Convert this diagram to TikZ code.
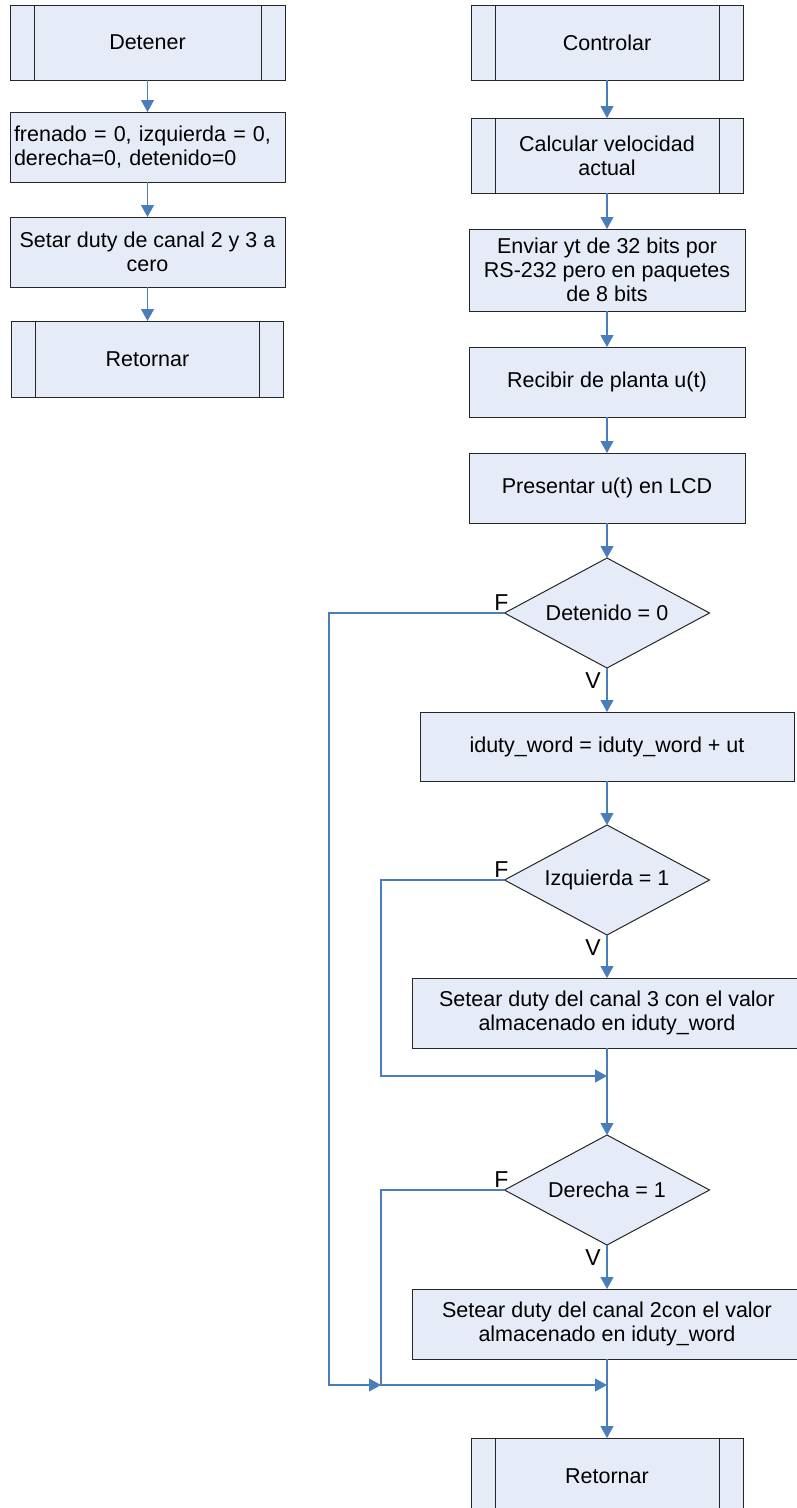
\documentclass[tikz,border=0pt]{standalone}
\usepackage{fontspec}
\setmainfont{Liberation Sans}
\usepackage{xcolor}
\usepackage{tikz}
\usetikzlibrary{arrows.meta,positioning,shapes.geometric}

\definecolor{boxfill}{HTML}{E6ECF7}
\definecolor{linkblue}{HTML}{4A7EBB}

\begin{document}
\begin{tikzpicture}[
    x=1pt, y=-1pt,
    every node/.style={font=\fontsize{21.5}{24}\selectfont},
    box/.style={rectangle, draw=black!85, line width=1pt, fill=boxfill, inner sep=0pt, outer sep=0pt, minimum width=276pt, minimum height=70pt, align=center},
    subproc/.style={box, minimum width=272pt, minimum height=75pt,
      path picture={
        \draw[line width=1pt, black!85] ([xshift=24pt]path picture bounding box.north west) -- ([xshift=24pt]path picture bounding box.south west);
        \draw[line width=1pt, black!85] ([xshift=-24pt]path picture bounding box.north east) -- ([xshift=-24pt]path picture bounding box.south east);
      }},
    decision/.style={diamond, aspect=1.86, draw=black!85, line width=1pt, fill=boxfill, inner sep=0pt, outer sep=0pt, minimum width=205pt, minimum height=110pt},
    link/.style={draw=linkblue, line width=1.1pt},
    arrow/.style={link, -{Triangle[length=12pt, width=13pt]}},
    lbl/.style={inner sep=0pt, font=\fontsize{23}{24}\selectfont},
  ]
  \useasboundingbox (0,0) rectangle (796,1508);

  % Detener
  \node[subproc, minimum width=275pt] (detener) at (147.5,42.5) {Detener};
  \node[box, minimum width=275pt, text width=267pt, inner xsep=4pt, align=left, below=32pt of detener] (frenado) {frenado = 0, izquierda = 0,\\derecha=0, detenido=0};
  \node[box, minimum width=275pt, below=35pt of frenado] (setar) {Setar duty de canal 2 y 3 a\\cero};
  \node[subproc, minimum height=76pt, below=34pt of setar] (ret1) {Retornar};

  % Controlar
  \node[subproc] (controlar) at (607,42.5) {Controlar};
  \node[subproc, below=38pt of controlar] (calcular) {Calcular velocidad\\actual};
  \node[box, minimum height=82pt, below=36pt of calcular] (enviar) {Enviar yt de 32 bits por\\RS-232 pero en paquetes\\de 8 bits};
  \node[box, below=36pt of enviar] (recibir) {Recibir de planta u(t)};
  \node[box, below=36pt of recibir] (presentar) {Presentar u(t) en LCD};

  % Decisiones
  \node[decision, below=35pt of presentar] (detenido) {Detenido = 0};
  \node[box, minimum width=374pt, minimum height=69pt, below=44pt of detenido] (iduty) {iduty\_word = iduty\_word + ut};
  \node[decision, below=44pt of iduty] (izquierda) {Izquierda = 1};
  \node[box, minimum width=390pt, below=43pt of izquierda] (canal3) {Setear duty del canal 3 con el valor\\almacenado en iduty\_word};
  \node[decision, below=87pt of canal3] (derecha) {Derecha = 1};
  \node[box, minimum width=390pt, below=44pt of derecha] (canal2) {Setear duty del canal 2con el valor\\almacenado en iduty\_word};
  \node[subproc, minimum height=76pt, below=79pt of canal2] (ret2) {Retornar};

  % Etiquetas
  \node[lbl, anchor=base] at ([xshift=-3pt, yshift=3pt]detenido.west) {F};
  \node[lbl, anchor=base] at ([xshift=-14pt, yshift=-20pt]detenido.south) {V};
  \node[lbl, anchor=base] at ([xshift=-3pt, yshift=3pt]izquierda.west) {F};
  \node[lbl, anchor=base] at ([xshift=-14pt, yshift=-20pt]izquierda.south) {V};
  \node[lbl, anchor=base] at ([xshift=-3pt, yshift=3pt]derecha.west) {F};
  \node[lbl, anchor=base] at ([xshift=-14pt, yshift=-20pt]derecha.south) {V};

  % Puntos de union
  \coordinate (m1) at ([yshift=-28pt]canal3.south);
  \coordinate (m1l) at ([xshift=-226pt]m1);
  \coordinate (m2) at ([yshift=-26pt]canal2.south);
  \coordinate (m2l) at ([xshift=-226pt]m2);
  \coordinate (m2ll) at ([xshift=-278pt]m2);

  % Arrows
  \draw[arrow] (detener) -- (frenado);
  \draw[arrow] (frenado) -- (setar);
  \draw[arrow] (setar) -- (ret1);
  \draw[arrow] (controlar) -- (calcular);
  \draw[arrow] (calcular) -- (enviar);
  \draw[arrow] (enviar) -- (recibir);
  \draw[arrow] (recibir) -- (presentar);
  \draw[arrow] (presentar) -- (detenido);
  \draw[arrow] (detenido) -- (iduty);
  \draw[arrow] (iduty) -- (izquierda);
  \draw[arrow] (izquierda) -- (canal3);
  \draw[link] (canal3) -- (m1);
  \draw[arrow] (izquierda.west) -| (m1l) -- (m1);
  \draw[arrow] (m1) -- (derecha);
  \draw[arrow] (derecha) -- (canal2);
  \draw[link] (canal2) -- (m2);
  \draw[arrow] (detenido.west) -| (m2ll) -- (m2l);
  \draw[arrow] (derecha.west) -| (m2l) -- (m2);
  \draw[arrow] (m2) -- (ret2);
\end{tikzpicture}
\end{document}
